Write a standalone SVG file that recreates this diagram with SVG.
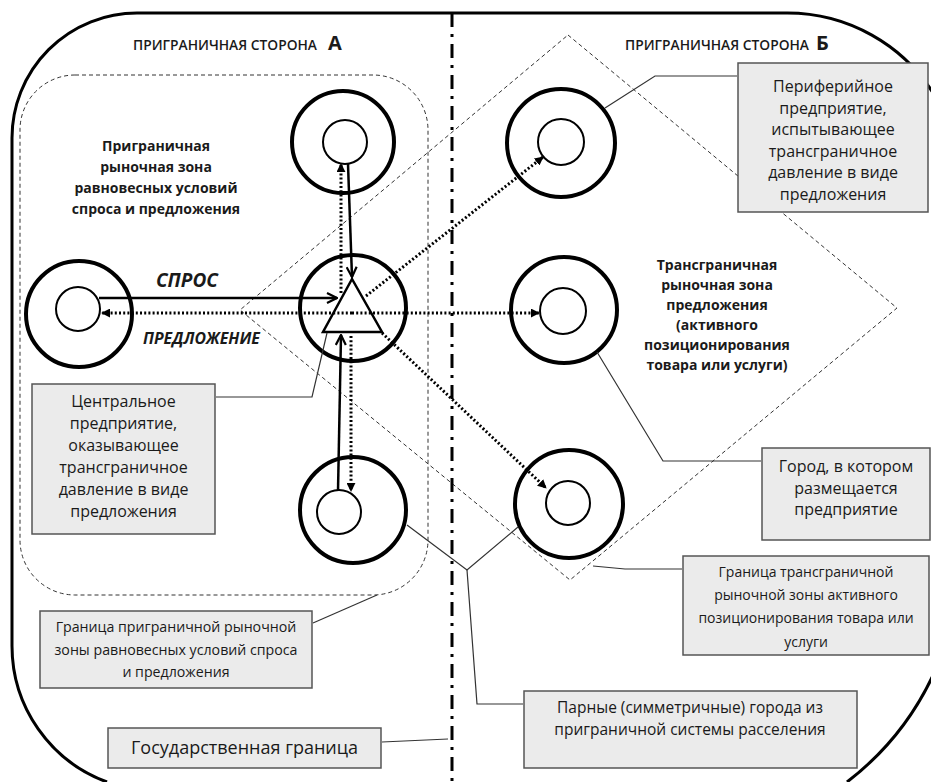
<svg xmlns="http://www.w3.org/2000/svg" width="931" height="782" viewBox="0 0 931 782">
<style>
text{font-family:"Open Sans","Noto Sans","DejaVu Sans",sans-serif;fill:#1a1a1a}
.box{fill:#ebebeb;stroke:#555;stroke-width:1.5}
.lbl{font-size:16px;text-anchor:middle}
.bold{font-weight:700;font-size:14px;text-anchor:middle}
.hdr{font-size:13.8px;font-weight:600}
.hdrL{font-size:20px;font-weight:700}
.frame{fill:none;stroke:#000;stroke-width:3}
.outer{fill:none;stroke:#000;stroke-width:4}
.inner{fill:#fff;stroke:#000;stroke-width:2}
.lead{fill:none;stroke:#333;stroke-width:1.2}
.dash{fill:none;stroke:#333;stroke-width:1;stroke-dasharray:4 3}
.dot{fill:none;stroke:#000;stroke-width:3;stroke-dasharray:2 2.2}
.solid{fill:none;stroke:#000;stroke-width:2.5}
</style>
<defs>
<marker id="open" markerUnits="userSpaceOnUse" viewBox="0 0 12 12" refX="11" refY="6" markerWidth="12" markerHeight="12" orient="auto">
<path d="M1,1 L11,6 L1,11" fill="none" stroke="#000" stroke-width="2.2"/>
</marker>
<marker id="fill" markerUnits="userSpaceOnUse" viewBox="0 0 10 10" refX="9" refY="5" markerWidth="9" markerHeight="9" orient="auto">
<path d="M0,0 L10,5 L0,10 Z" fill="#000"/>
</marker>
</defs>

<g id="frame">
<path d="M935,96 A173,173 0 0 0 787,13 L137,13 A125,125 0 0 0 12,138 L12,646 A145,145 0 0 0 107,782" class="frame"/>
<path d="M935,671 A290,290 0 0 1 847,782" class="frame"/>
</g>

<g id="zones">
<rect x="20" y="75" width="408" height="520" rx="55" ry="55" class="dash"/>
<polygon points="568,35 897,308 570,580 240,310" class="dash"/>
</g>

<g id="state-border">
<line x1="452" y1="13" x2="452" y2="782" stroke="#000" stroke-width="3" stroke-dasharray="14 7 3 7"/>
</g>

<g id="headers">
<text x="133" y="50" class="hdr">ПРИГРАНИЧНАЯ СТОРОНА</text>
<text x="328" y="50" class="hdrL">А</text>
<text x="625" y="50" class="hdr">ПРИГРАНИЧНАЯ СТОРОНА</text>
<text x="816" y="50" class="hdrL">Б</text>
</g>

<g id="zone-a-label">
<text class="bold"><tspan x="156" y="151">Приграничная</tspan><tspan x="156" y="172">рыночная зона</tspan><tspan x="156" y="193">равновесных условий</tspan><tspan x="156" y="214">спроса и предложения</tspan></text>
</g>

<g id="zone-b-label">
<text class="bold"><tspan x="717" y="270">Трансграничная</tspan><tspan x="717" y="290">рыночная  зона</tspan><tspan x="717" y="310">предложения</tspan><tspan x="717" y="330">(активного</tspan><tspan x="717" y="350">позиционирования</tspan><tspan x="717" y="370">товара или услуги)</tspan></text>
</g>

<g id="city-a-top"><circle cx="343" cy="142" r="51" class="outer"/><circle cx="345" cy="142" r="22" class="inner"/></g>
<g id="city-a-left"><circle cx="79" cy="314" r="53" class="outer"/><circle cx="78" cy="309" r="22" class="inner"/></g>
<g id="city-a-center"><circle cx="353" cy="308" r="53" class="outer"/><polygon points="352,279 323,332 382,332" fill="#fff" stroke="#000" stroke-width="2.5"/></g>
<g id="city-a-bottom"><circle cx="353" cy="510" r="53" class="outer"/><circle cx="339" cy="512" r="22" class="inner"/></g>
<g id="city-b-top"><circle cx="561" cy="143" r="54" class="outer"/><circle cx="561" cy="142" r="23" class="inner"/></g>
<g id="city-b-middle"><circle cx="564" cy="310" r="53" class="outer"/><circle cx="563" cy="311" r="23" class="inner"/></g>
<g id="city-b-bottom"><circle cx="569" cy="504" r="54" class="outer"/><circle cx="568" cy="503" r="22" class="inner"/></g>

<g id="connectors">
<line x1="99" y1="298" x2="337" y2="298" class="solid" marker-end="url(#open)"/>
<line x1="348" y1="164" x2="352" y2="277" class="solid" marker-end="url(#open)"/>
<line x1="338" y1="491" x2="341" y2="335" class="solid" marker-end="url(#open)"/>
<line x1="352" y1="313" x2="102" y2="313" class="dot" marker-end="url(#fill)"/>
<line x1="352" y1="313" x2="539" y2="313" class="dot" marker-end="url(#fill)"/>
<line x1="341" y1="293" x2="341" y2="164" class="dot" marker-end="url(#fill)"/>
<line x1="351" y1="336" x2="351" y2="491" class="dot" marker-end="url(#fill)"/>
<line x1="366" y1="296" x2="543" y2="157" class="dot" marker-end="url(#fill)"/>
<line x1="382" y1="333" x2="546" y2="488" class="dot" marker-end="url(#fill)"/>
</g>

<g id="flow-labels">
<text x="156" y="287" style="font-size:19px;font-weight:700;font-style:italic">СПРОС</text>
<text x="143" y="344" style="font-size:15.8px;font-weight:700;font-style:italic">ПРЕДЛОЖЕНИЕ</text>
</g>

<g id="leaders">
<polyline points="737,76 655,76 605,108" class="lead"/>
<polyline points="761,461 663,461 597,352" class="lead"/>
<polyline points="682,569 625,569 593,566" class="lead"/>
<polyline points="407,525 467,570 518,527" class="lead"/>
<polyline points="467,570 477,704 523,704" class="lead"/>
<polyline points="382,742 448,739" class="lead"/>
<polyline points="313,623 377,595" class="lead"/>
<polyline points="216,397 312,397 327,333" class="lead"/>
</g>

<g id="note-peripheral">
<rect x="738" y="63" width="190" height="149" class="box"/>
<text class="lbl"><tspan x="833" y="92">Периферийное</tspan><tspan x="833" y="113.5">предприятие,</tspan><tspan x="833" y="135">испытывающее</tspan><tspan x="833" y="156.5">трансграничное</tspan><tspan x="833" y="178">давление в виде</tspan><tspan x="833" y="199.5">предложения</tspan></text>
</g>

<g id="note-central">
<rect x="32" y="384" width="183" height="150" class="box"/>
<text class="lbl"><tspan x="123.5" y="407">Центральное</tspan><tspan x="123.5" y="429">предприятие,</tspan><tspan x="123.5" y="451">оказывающее</tspan><tspan x="123.5" y="473">трансграничное</tspan><tspan x="123.5" y="495">давление в виде</tspan><tspan x="123.5" y="517">предложения</tspan></text>
</g>

<g id="note-city">
<rect x="762" y="448" width="168" height="92" class="box"/>
<text class="lbl"><tspan x="846" y="472">Город, в котором</tspan><tspan x="846" y="493.5">размещается</tspan><tspan x="846" y="515">предприятие</tspan></text>
</g>

<g id="note-cross-border">
<rect x="683" y="556" width="246" height="99" class="box"/>
<text class="lbl" style="font-size:14px"><tspan x="806" y="577">Граница трансграничной</tspan><tspan x="806" y="600">рыночной зоны активного</tspan><tspan x="806" y="623">позиционирования товара или</tspan><tspan x="806" y="647">услуги</tspan></text>
</g>

<g id="note-paired">
<rect x="524" y="691" width="333" height="77" class="box"/>
<text class="lbl" style="font-size:15.5px"><tspan x="690" y="713">Парные (симметричные) города из</tspan><tspan x="690" y="735">приграничной системы расселения</tspan></text>
</g>

<g id="note-border-zone">
<rect x="40" y="611" width="272" height="77" class="box"/>
<text class="lbl" style="font-size:14.2px"><tspan x="176" y="632">Граница приграничной рыночной</tspan><tspan x="176" y="655">зоны равновесных условий спроса</tspan><tspan x="176" y="677">и предложения</tspan></text>
</g>

<g id="note-state-border">
<rect x="108" y="728" width="273" height="40" class="box"/>
<text class="lbl" x="244.5" y="754" style="font-size:18px">Государственная граница</text>
</g>
</svg>
